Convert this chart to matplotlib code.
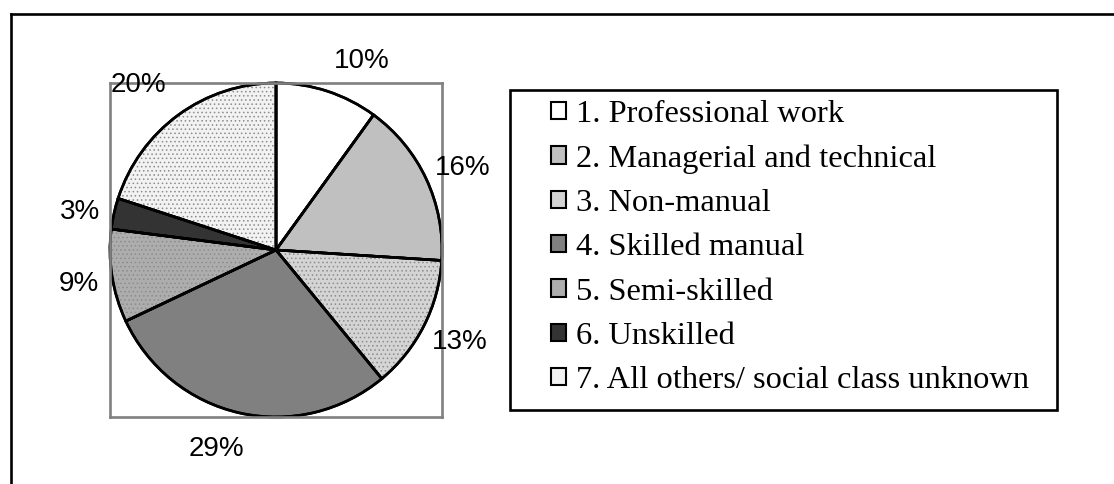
import matplotlib
matplotlib.use("Agg")
import numpy as np
import matplotlib.pyplot as plt
from matplotlib.patches import Rectangle
from matplotlib.lines import Line2D

# social class shares (%), clockwise from 12 o'clock
classes = ["1. Professional work", "2. Managerial and technical", "3. Non-manual",
           "4. Skilled manual", "5. Semi-skilled", "6. Unskilled",
           "7. All others/ social class unknown"]
shares = [10, 16, 13, 29, 9, 3, 20]
colors = ["#ffffff", "#c0c0c0", "#d4d4d4", "#808080", "#adadad", "#333333", "#f2f2f2"]
hatches = [None, None, "....", None, "....", None, "...."]
# small nudges of the % labels (axes data units), the way Excel laid them out
label_nudge = [(0.14, -0.03), (0.02, -0.03), (0.02, 0.0), (-0.09, 0.0),
               (0.02, -0.01), (0.01, -0.04), (-0.11, 0.0)]

W, H = 1114, 484
fig = plt.figure(figsize=(W / 100, H / 100), dpi=100)
plt.rcParams["hatch.linewidth"] = 0.6

# pie area (the grey plot-area box)
ax = fig.add_axes([110 / W, 1 - 417 / H, 332 / W, 334 / H])
wedges, texts, pcts = ax.pie(shares, colors=colors, startangle=90, counterclock=False,
                             radius=1.0, autopct="%1.0f%%", pctdistance=1.22,
                             wedgeprops=dict(edgecolor="black", linewidth=1.9),
                             textprops=dict(fontsize=20, family="Liberation Sans"))

# dotted texture on some slices (hatch drawn in grey, edges kept black)
over, _ = ax.pie(shares, colors=["none"] * len(shares), startangle=90, counterclock=False,
                 radius=1.0, wedgeprops=dict(edgecolor="#8c8c8c", linewidth=0))
for w, h in zip(over, hatches):
    if h:
        w.set_hatch(h)
    else:
        w.set_visible(False)
# redraw the black outlines on top
ol, _ = ax.pie(shares, colors=["none"] * len(shares), startangle=90, counterclock=False,
               radius=1.0, wedgeprops=dict(edgecolor="black", linewidth=1.9, fill=False))

ax.set_xlim(-1.0, 1.0)
ax.set_ylim(-1.0, 1.0)
ax.set_aspect("auto")
ax.set_frame_on(True)
for sp in ax.spines.values():
    sp.set_color("#808080")
    sp.set_linewidth(1.9)
for t, (dx, dy) in zip(pcts, label_nudge):
    x, y = t.get_position()
    t.set_position((x + dx, y + dy))
    t.set_clip_on(False)

# legend
leg = fig.legend(wedges, classes, loc="upper left",
                 bbox_to_anchor=(551 / W, 1 - 100 / H), frameon=False,
                 prop=dict(family="Liberation Serif", size=23.4),
                 borderpad=0, borderaxespad=0, handlelength=0.45, handleheight=0.45,
                 handletextpad=0.32, labelspacing=0.47)
for h in leg.legend_handles:
    h.set_linewidth(1.5)
    h.set_edgecolor("black")

fig.add_artist(Rectangle((510 / W, 1 - 410 / H), 547 / W, 320 / H,
                         transform=fig.transFigure, fill=False,
                         edgecolor="black", linewidth=1.9))

# outer chart frame (only left and top visible)
fig.add_artist(Line2D([10.5 / W, 10.5 / W], [0, 1 - 13.5 / H], transform=fig.transFigure,
                      color="black", linewidth=1.9))
fig.add_artist(Line2D([10.5 / W, 1], [1 - 13.5 / H, 1 - 13.5 / H], transform=fig.transFigure,
                      color="black", linewidth=1.9))

fig.savefig("out.png", dpi=100)
